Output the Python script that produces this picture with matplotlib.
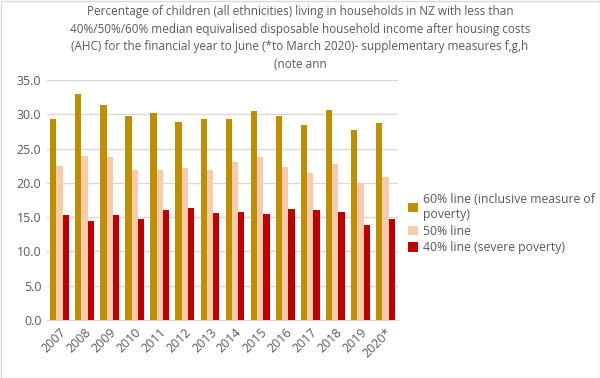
import matplotlib
matplotlib.use("Agg")
import matplotlib.pyplot as plt
import numpy as np
from matplotlib.patches import Rectangle

years = ["2007", "2008", "2009", "2010", "2011", "2012", "2013", "2014",
         "2015", "2016", "2017", "2018", "2019", "2020*"]
line60 = [29.3, 33.0, 31.4, 29.7, 30.2, 28.9, 29.3, 29.3, 30.5, 29.8, 28.4, 30.6, 27.7, 28.8]
line50 = [22.4, 23.9, 23.8, 21.9, 21.9, 22.2, 21.9, 23.0, 23.8, 22.3, 21.4, 22.8, 20.0, 20.9]
line40 = [15.3, 14.5, 15.3, 14.8, 16.1, 16.3, 15.6, 15.8, 15.5, 16.2, 16.1, 15.7, 13.8, 14.7]
labels = ["60% line (inclusive measure of\npoverty)", "50% line", "40% line (severe poverty)"]
colors = ["#BF8F00", "#F8CBAD", "#C00000"]
title = ("Percentage of children (all ethnicities) living in households in NZ with less than\n"
         "40%/50%/60% median equivalised disposable household income after housing costs\n"
         "(AHC) for the financial year to June (*to March 2020)- supplementary measures f,g,h\n"
         "(note ann")

plt.rcParams['font.family'] = ['Open Sans', 'DejaVu Sans']
txt = "#595959"

fig = plt.figure(figsize=(6, 3.78), dpi=100)
ax = fig.add_axes([47/600, 1-320/378, (398-47)/600, (320-80)/378])

x = np.arange(len(years))
w = 0.25
for i, (vals, lab, c) in enumerate(zip([line60, line50, line40], labels, colors)):
    ax.bar(x + (i-1)*w, vals, w, color=c, label=lab, zorder=3)

ax.set_ylim(0, 35)
ax.set_xlim(-0.5, len(years)-0.5)
ax.set_yticks(np.arange(0, 35.1, 5))
ax.set_yticklabels([f"{v:.1f}" for v in np.arange(0, 35.1, 5)], color=txt, fontsize=9)
ax.set_xticks(x)
ax.set_xticklabels(years, rotation=45, ha='right', rotation_mode='anchor', color=txt, fontsize=9)
ax.tick_params(length=0, pad=4)
ax.grid(axis='y', color='#D9D9D9', linewidth=1, zorder=0)
for s in ['top', 'right', 'left']:
    ax.spines[s].set_visible(False)
ax.spines['bottom'].set_color('#D9D9D9')

fig.text(0.5, 1-5/378, title, ha='center', va='top', fontsize=8.5, color=txt, linespacing=1.45)

leg = fig.legend(loc='upper left', bbox_to_anchor=(397/600, 1-182/378), frameon=False,
                 fontsize=8.8, handlelength=0.8, handleheight=0.8, handletextpad=0.4,
                 labelspacing=0.3, labelcolor=txt)

fig.patches.append(Rectangle((0.5/600, 0.5/378), 1-1/600, 1-1/378, transform=fig.transFigure,
                             fill=False, edgecolor='#D9D9D9', linewidth=1))
fig.savefig("out.png", dpi=100)
